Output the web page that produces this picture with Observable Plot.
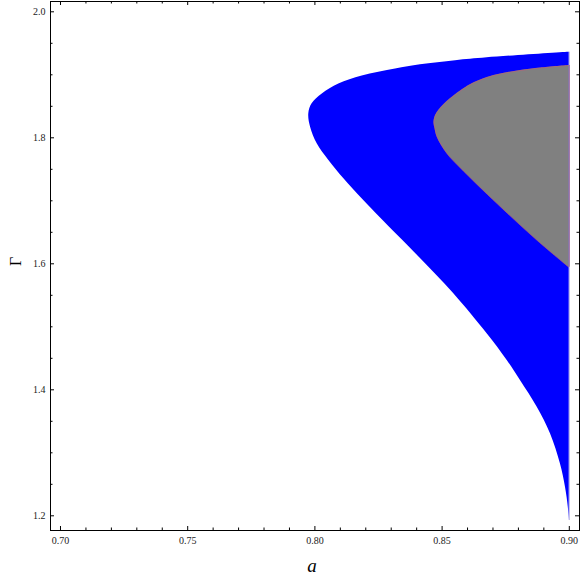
<!DOCTYPE html>
<html>
<head>
<meta charset="utf-8">
<script src="https://cdn.jsdelivr.net/npm/d3@7"></script>
<script src="https://cdn.jsdelivr.net/npm/@observablehq/plot@0.6"></script>
<style>
  html, body { margin: 0; padding: 0; background: #fff; }
  #chart svg { display: block; }
</style>
</head>
<body>
<div id="chart"></div>
<script>
// Outer (blue) region boundary, from top-right around the nose to bottom-right
const outerA = [0.8998, 0.8677, 0.8553, 0.8415, 0.8317, 0.8186, 0.8094, 0.8029, 0.7989, 0.7976,
                0.7983, 0.8009, 0.8055, 0.8114, 0.8192, 0.8324, 0.8415, 0.8546, 0.8677, 0.8756,
                0.8808, 0.8874, 0.8926, 0.8965, 0.8985, 0.8996, 0.9000];
const outerG = [1.9359, 1.9271, 1.9225, 1.9159, 1.9092, 1.8981, 1.8854, 1.8695, 1.8540, 1.8381,
                1.8168, 1.7905, 1.7640, 1.7349, 1.7005, 1.6457, 1.6084, 1.5524, 1.4889, 1.4465,
                1.4148, 1.3724, 1.3302, 1.2825, 1.2454, 1.2137, 1.1925];
// Inner (gray) region boundary
const innerA = [0.8998, 0.8887, 0.8808, 0.8730, 0.8677, 0.8612, 0.8572, 0.8533, 0.8507, 0.8486,
                0.8474, 0.8468, 0.8472, 0.8481, 0.8520, 0.8572, 0.8717, 0.8874, 0.8998];
const innerG = [1.9148, 1.9108, 1.9068, 1.9013, 1.8957, 1.8846, 1.8743, 1.8624, 1.8529, 1.8433,
                1.8354, 1.8251, 1.8148, 1.8010, 1.7746, 1.7521, 1.6952, 1.6370, 1.5946];
const aMax = 0.9;

// Ticks
const xMajor = [0.70, 0.75, 0.80, 0.85, 0.90];
const xMinor = d3.range(0.70, 0.9001, 0.01).map(v => +v.toFixed(2)).filter(v => !xMajor.includes(v));
const yMajor = [1.2, 1.4, 1.6, 1.8, 2.0];
const yMinor = [1.25, 1.3, 1.35, 1.45, 1.5, 1.55, 1.65, 1.7, 1.75, 1.85, 1.9, 1.95];

const outer = outerG.map((g, i) => ({a: outerA[i], g}));
const inner = innerG.map((g, i) => ({a: innerA[i], g}));

const W = 580, H = 579;
const mL = 50, mR = 1, mT = 1, mB = 49;
const innerW = W - mL - mR, innerH = H - mT - mB;
const curve = "catmull-rom";

const chart = Plot.plot({
  width: W,
  height: H,
  marginLeft: mL,
  marginRight: mR,
  marginTop: mT,
  marginBottom: mB,
  style: {fontFamily: "'Liberation Serif', 'DejaVu Serif', serif", fontSize: "10px", background: "#fff", color: "#222"},
  x: {domain: [0.69607, 0.90401]},
  y: {domain: [1.17667, 2.01635]},
  marks: [
    Plot.areaX(outer, {y: "g", x1: "a", x2: aMax, fill: "#0000ff", curve}),
    Plot.areaX(inner, {y: "g", x1: "a", x2: aMax, fill: "#808080", curve}),
    Plot.line(inner, {x: "a", y: "g", stroke: "#c05a78", strokeWidth: 0.6, curve}),
    Plot.ruleX([aMax], {y1: outerG[outerG.length - 1], y2: outerG[0], stroke: "#b4b0e6", strokeWidth: 1}),
    Plot.ruleX([aMax], {y1: innerG[innerG.length - 1], y2: innerG[0], stroke: "#a0689c", strokeWidth: 1}),
    Plot.frame({stroke: "#000", strokeWidth: 1}),
    // bottom ticks
    Plot.tickX(xMajor, {x: d => d, insetTop: innerH - 4, stroke: "#000"}),
    Plot.tickX(xMinor, {x: d => d, insetTop: innerH - 2.5, stroke: "#000"}),
    // top ticks
    Plot.tickX(xMajor, {x: d => d, insetBottom: innerH - 4, stroke: "#000"}),
    Plot.tickX(xMinor, {x: d => d, insetBottom: innerH - 2.5, stroke: "#000"}),
    // left ticks
    Plot.tickY(yMajor, {y: d => d, insetRight: innerW - 4, stroke: "#000"}),
    Plot.tickY(yMinor, {y: d => d, insetRight: innerW - 2.5, stroke: "#000"}),
    // right ticks
    Plot.tickY(yMajor, {y: d => d, insetLeft: innerW - 4, stroke: "#000"}),
    Plot.tickY(yMinor, {y: d => d, insetLeft: innerW - 2.5, stroke: "#000"}),
    // tick labels
    Plot.axisX({ticks: xMajor, tickSize: 0, tickPadding: 6, tickFormat: d3.format(".2f"), label: null, fill: "#222"}),
    Plot.axisY({ticks: yMajor, tickSize: 0, tickPadding: 5, tickFormat: d3.format(".1f"), label: null, fill: "#222"}),
    // axis titles
    Plot.text(["a"], {frameAnchor: "bottom", dy: 41, dx: -3, lineAnchor: "bottom", fontSize: 19, fontStyle: "italic", fill: "#000"}),
    Plot.text(["Γ"], {frameAnchor: "left", dx: -35, rotate: -90, fontSize: 16, fill: "#000"})
  ]
});
document.getElementById("chart").appendChild(chart);
</script>
</body>
</html>
